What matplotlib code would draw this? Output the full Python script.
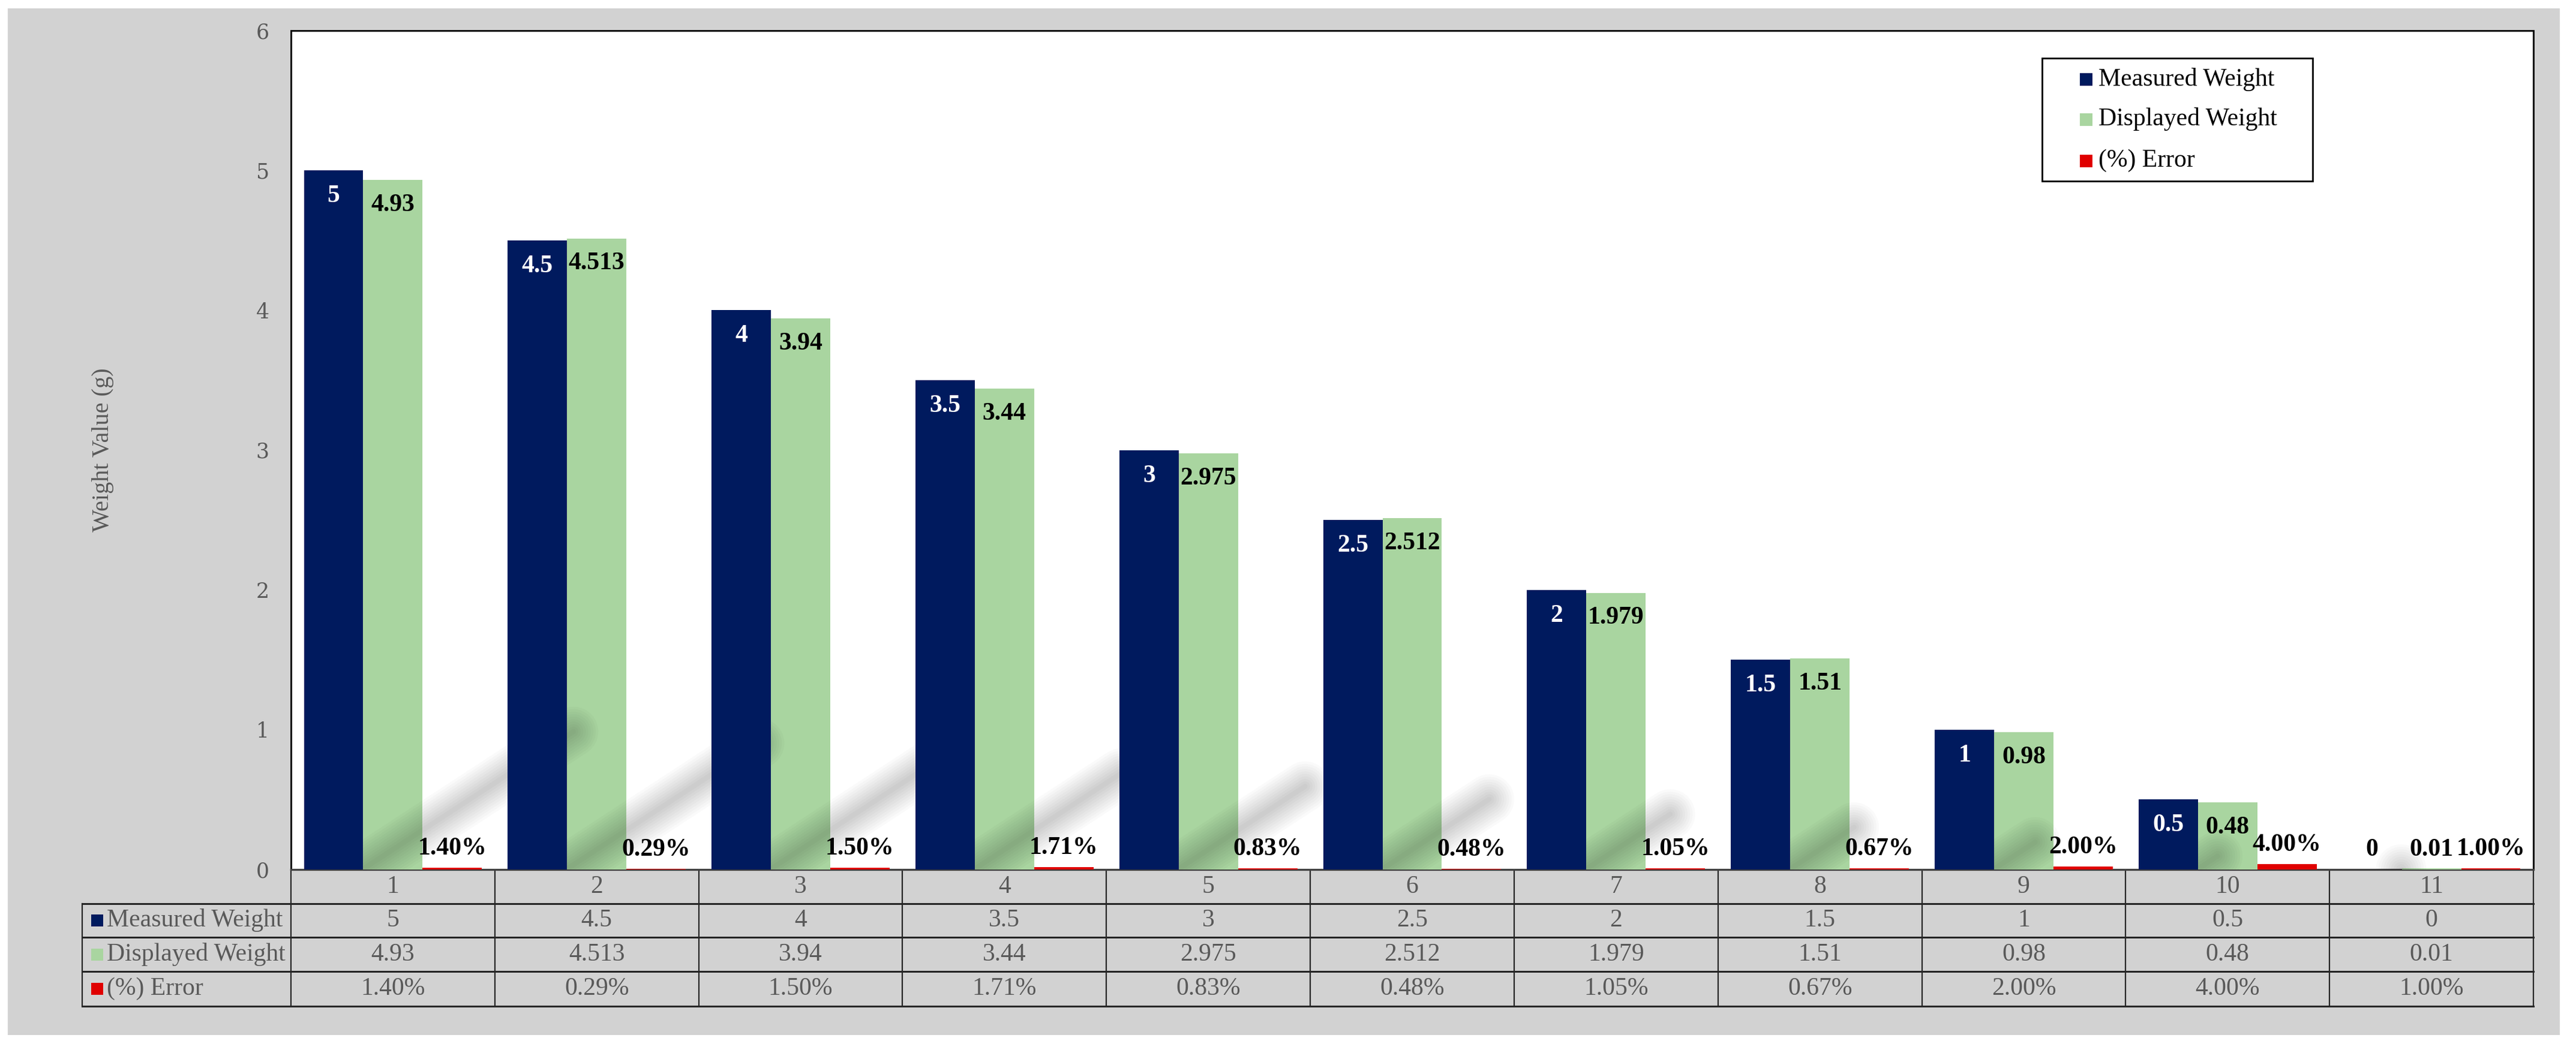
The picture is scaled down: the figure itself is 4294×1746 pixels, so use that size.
import numpy as np
import matplotlib
matplotlib.use('Agg')
import matplotlib.pyplot as plt
from matplotlib.patches import Rectangle

# chart data
categories = ['1', '2', '3', '4', '5', '6', '7', '8', '9', '10', '11']
measured = [5, 4.5, 4, 3.5, 3, 2.5, 2, 1.5, 1, 0.5, 0]
displayed = [4.93, 4.513, 3.94, 3.44, 2.975, 2.512, 1.979, 1.51, 0.98, 0.48, 0.01]
error_pct = [1.40, 0.29, 1.50, 1.71, 0.83, 0.48, 1.05, 0.67, 2.00, 4.00, 1.00]
series = ['Measured Weight', 'Displayed Weight', '(%) Error']
yticks = [0, 1, 2, 3, 4, 5, 6]

colors = ['#001a5e', '#a9d5a0', '#e00000']
gray_txt = '#595959'
line_c = '#262626'

plt.rcParams['font.family'] = ['Liberation Serif', 'DejaVu Serif']

W, H = 4294, 1746
fig = plt.figure(figsize=(W / 100, H / 100), dpi=100)
fig.patch.set_facecolor('white')

# pixel-space axes for background and data table
bg = fig.add_axes([0, 0, 1, 1], zorder=0)
bg.set_xlim(0, W)
bg.set_ylim(H, 0)
bg.axis('off')
bg.add_patch(Rectangle((13, 14), 4254, 1712, facecolor='#d2d2d2', edgecolor='none'))

L, R, T, B = 485, 4223, 51, 1450
ax = fig.add_axes([L / W, 1 - B / H, (R - L) / W, (B - T) / H], zorder=2)
ax.set_facecolor('white')

x = np.arange(len(categories))
w = 0.291
err = np.array(error_pct) / 100
ax.bar(x, displayed, w, color=colors[1], zorder=3)
ax.bar(x - w, measured, w, color=colors[0], zorder=4)
ax.bar(x + w, err, w, color=colors[2], zorder=4)

# soft diagonal shadows cast from the displayed-weight bars
for i, d in enumerate(displayed):
    x0, y0 = x[i] - 0.15, 0.0
    x1, y1 = x0 + 0.21 * d, y0 + 0.2 * d
    for lw in range(6, 66, 6):
        ax.plot([x0, x1], [y0, y1], color='black', alpha=0.02, lw=lw,
                solid_capstyle='round', zorder=3.5)

lab = dict(ha='center', va='center', fontsize=30, fontweight='bold',
           textcoords='offset points', zorder=5)
for i in range(len(categories)):
    m, d = measured[i], displayed[i]
    if m >= 0.2:
        ax.annotate(f'{m:g}', (x[i] - w, m), xytext=(0, -31), color='white', **lab)
    else:
        ax.annotate(f'{m:g}', (x[i] - w, m), xytext=(0, 24), color='black', **lab)
    if d >= 0.2:
        ax.annotate(f'{d:g}', (x[i], d), xytext=(0, -30), color='black', **lab)
    else:
        ax.annotate(f'{d:g}', (x[i], d), xytext=(0, 22), color='black', **lab)
    ax.annotate(f'{error_pct[i]:.2f}%', (x[i] + w, err[i]), xytext=(0, 23), color='black', **lab)

ax.set_xlim(-0.5, len(categories) - 0.5)
ax.set_ylim(0, 6)
ax.set_xticks([])
ax.set_yticks(yticks)
ax.tick_params(axis='y', length=0, pad=26, labelsize=25, labelcolor=gray_txt)
for t in ax.get_yticklabels():
    t.set_fontfamily('DejaVu Serif')
for s in ['left', 'right', 'top']:
    ax.spines[s].set_color('black')
    ax.spines[s].set_linewidth(2)
ax.spines['bottom'].set_color('#404040')
ax.spines['bottom'].set_linewidth(2.4)
ax.set_ylabel('Weight Value (g)', color=gray_txt, fontsize=29, va='center')
ax.yaxis.set_label_coords((171 - L) / (R - L), 0.5)

# data table under the plot
rows_y = [1450, 1507, 1563, 1620, 1678]
lab_left = 137
n = len(categories)
col_x = [L + (R - L) * k / n for k in range(n + 1)]
for cx in col_x:
    bg.plot([cx, cx], [rows_y[0], rows_y[-1]], color=line_c, lw=1.6)
bg.plot([lab_left, lab_left], [rows_y[1], rows_y[-1]], color=line_c, lw=1.6)
for ry in rows_y[1:]:
    bg.plot([lab_left, R], [ry, ry], color=line_c, lw=2.2)

tcell = dict(ha='center', va='center', fontsize=30, color=gray_txt)
row_vals = [[f'{v:g}' for v in measured],
            [f'{v:g}' for v in displayed],
            [f'{v:.2f}%' for v in error_pct]]
for k in range(n):
    cx = (col_x[k] + col_x[k + 1]) / 2
    bg.text(cx, (rows_y[0] + rows_y[1]) / 2, categories[k], **tcell)
    for r in range(3):
        bg.text(cx, (rows_y[r + 1] + rows_y[r + 2]) / 2, row_vals[r][k], **tcell)
for r in range(3):
    yc = (rows_y[r + 1] + rows_y[r + 2]) / 2
    bg.add_patch(Rectangle((152, yc - 10), 20, 20, facecolor=colors[r], edgecolor='none'))
    bg.text(178, yc, series[r], ha='left', va='center', fontsize=30, color=gray_txt)

# legend box drawn on top overlay
top = fig.add_axes([0, 0, 1, 1], zorder=6)
top.set_xlim(0, W)
top.set_ylim(H, 0)
top.axis('off')
top.add_patch(Rectangle((3404, 97), 451, 205, facecolor='none', edgecolor='black', lw=2))
for r, yc in enumerate([132, 199, 268]):
    top.add_patch(Rectangle((3467, yc - 10), 21, 21, facecolor=colors[r], edgecolor='none'))
    top.text(3498, yc, series[r], ha='left', va='center', fontsize=30, color='black')

fig.savefig('out.png', dpi=100, facecolor=fig.get_facecolor())
